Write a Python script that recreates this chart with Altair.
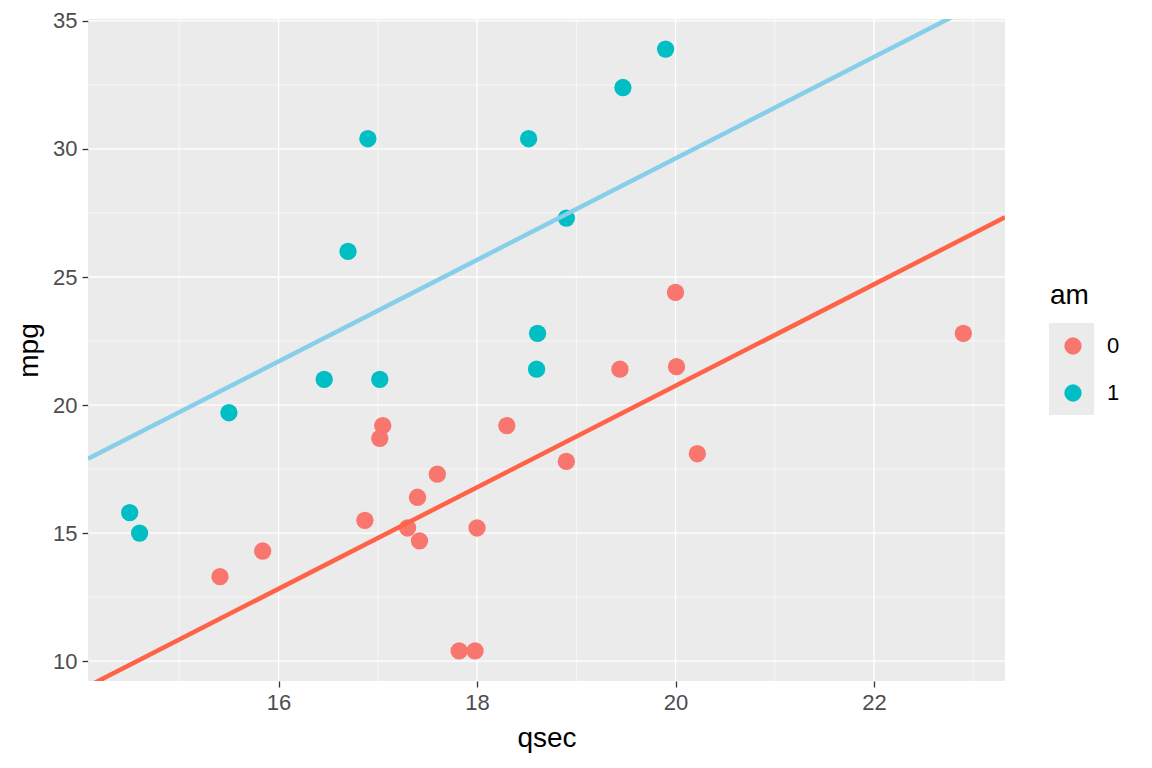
import altair as alt
import pandas as pd

# mtcars: qsec, mpg, am
qsec = [16.46, 17.02, 18.61, 19.44, 17.02, 20.22, 15.84, 20.00, 22.90, 18.30, 18.90,
        17.40, 17.60, 18.00, 17.98, 17.82, 17.42, 19.47, 18.52, 19.90, 20.01, 16.87,
        17.30, 15.41, 17.05, 18.90, 16.70, 16.90, 14.50, 15.50, 14.60, 18.60]
mpg = [21.0, 21.0, 22.8, 21.4, 18.7, 18.1, 14.3, 24.4, 22.8, 19.2, 17.8,
       16.4, 17.3, 15.2, 10.4, 10.4, 14.7, 32.4, 30.4, 33.9, 21.5, 15.5,
       15.2, 13.3, 19.2, 27.3, 26.0, 30.4, 15.8, 19.7, 15.0, 21.4]
am = ["1", "1", "1", "0", "0", "0", "0", "0", "0", "0", "0",
      "0", "0", "0", "0", "0", "0", "1", "1", "1", "0", "0",
      "0", "0", "0", "1", "1", "1", "1", "1", "1", "1"]

# fitted lines (endpoints across the panel)
line_x = [14.08, 23.32]
line_am0 = [9.02, 27.33]
line_am1 = [17.90, 36.21]

x_major = [16, 18, 20, 22]
x_minor = [15, 17, 19, 21, 23]
y_major = [10, 15, 20, 25, 30, 35]
y_minor = [12.5, 17.5, 22.5, 27.5, 32.5]

X_DOM = [14.08, 23.32]
Y_DOM = [9.225, 35.075]

pts = pd.DataFrame({"qsec": qsec, "mpg": mpg, "am": am})
lines = pd.DataFrame({
    "qsec": line_x + line_x,
    "mpg": line_am0 + line_am1,
    "grp": ["0", "0", "1", "1"],
})

xs = alt.Scale(domain=X_DOM, nice=False, zero=False)
ys = alt.Scale(domain=Y_DOM, nice=False, zero=False)

FONT = "Liberation Sans"

axis_common = dict(grid=False, domain=False, tickColor="#333333", tickSize=6,
                   tickWidth=1.3, labelColor="#4D4D4D", labelFontSize=22,
                   labelFont=FONT, labelPadding=5, titleFont=FONT,
                   titleFontSize=28, titleColor="black", titleFontWeight="normal")
x_axis = alt.Axis(values=x_major, format="d", titlePadding=11, **axis_common)
y_axis = alt.Axis(values=y_major, format="d", titlePadding=9, **axis_common)


def X(field):
    return alt.X(field, scale=xs, title="qsec", axis=x_axis)


def Y(field):
    return alt.Y(field, scale=ys, title="mpg", axis=y_axis)


minor_x = alt.Chart(pd.DataFrame({"v": x_minor})).mark_rule(
    color="white", strokeWidth=0.6).encode(x=X("v:Q"))
minor_y = alt.Chart(pd.DataFrame({"v": y_minor})).mark_rule(
    color="white", strokeWidth=0.6).encode(y=Y("v:Q"))
major_x = alt.Chart(pd.DataFrame({"v": x_major})).mark_rule(
    color="white", strokeWidth=1.3).encode(x=X("v:Q"))
major_y = alt.Chart(pd.DataFrame({"v": y_major})).mark_rule(
    color="white", strokeWidth=1.3).encode(y=Y("v:Q"))

# legend key background (ggplot legend.key)
key_bg = alt.Chart(pd.DataFrame({"k": [0]})).mark_rect(color="#EBEBEB").encode(
    x=alt.value(961), x2=alt.value(1006), y=alt.value(304), y2=alt.value(396))

points = alt.Chart(pts).mark_circle(size=300, opacity=1).encode(
    x=X("qsec:Q"),
    y=Y("mpg:Q"),
    color=alt.Color("am:N", title="am",
                    scale=alt.Scale(domain=["0", "1"], range=["#F8766D", "#00BFC4"]),
                    legend=alt.Legend(orient="none", legendX=962, legendY=263,
                                      symbolType="circle", symbolSize=300,
                                      symbolOpacity=1, symbolStrokeWidth=0,
                                      rowPadding=25, titlePadding=25,
                                      labelFontSize=22, titleFontSize=28,
                                      labelFont=FONT, titleFont=FONT,
                                      labelColor="black", titleColor="black",
                                      titleFontWeight="normal",
                                      symbolOffset=12, labelOffset=23,
                                      padding=0)),
)

line_layer = alt.Chart(lines).mark_line(strokeWidth=4.5, clip=True).encode(
    x=X("qsec:Q"),
    y=Y("mpg:Q"),
    detail="grp:N",
    stroke=alt.Stroke("grp:N", scale=alt.Scale(domain=["0", "1"],
                                                range=["#FF6347", "#87CEEB"]),
                      legend=None),
)

chart = alt.layer(minor_x, minor_y, major_x, major_y, key_bg, points, line_layer).resolve_scale(
    color="independent", stroke="independent"
).properties(
    width=917, height=662,
    autosize=alt.AutoSizeParams(type="none"),
    padding={"left": 80, "top": 11, "right": 130, "bottom": 86},
).configure_view(
    fill="#EBEBEB", stroke=None
)

chart.save("out.html", embed_options={"renderer": "svg", "actions": False})
